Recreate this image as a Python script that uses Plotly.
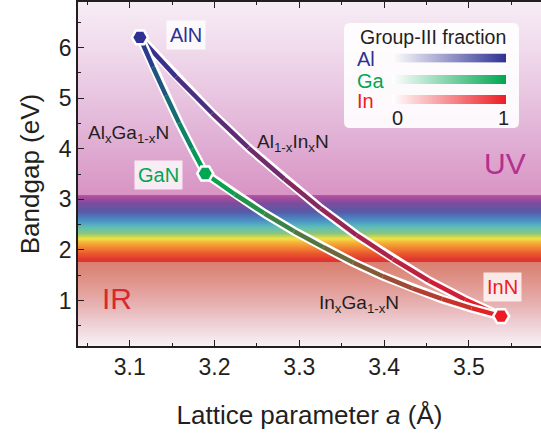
import numpy as np
import plotly.graph_objects as go

# ---------------- data ----------------
compounds = ["AlN", "GaN", "InN"]
lattice_a = [3.112, 3.189, 3.538]          # Å
bandgap = [6.20, 3.51, 0.69]               # eV
compound_colors = ["#2e3192", "#00a651", "#ed1c24"]

# Al_xGa_(1-x)N  (AlN -> GaN)
algan_a = [3.112, 3.1274, 3.1428, 3.1582, 3.1736, 3.189]
algan_E = [6.20, 5.61, 5.05, 4.51, 4.00, 3.51]

# Al_(1-x)In_xN  (AlN -> InN)
alinn_a = [3.112, 3.1546, 3.1972, 3.2398, 3.2824, 3.325, 3.3676, 3.4102, 3.4528, 3.4954, 3.538]
alinn_E = [6.20, 5.42, 4.70, 4.02, 3.40, 2.82, 2.29, 1.82, 1.39, 1.02, 0.69]

# In_xGa_(1-x)N  (GaN -> InN)
ingan_a = [3.189, 3.2239, 3.2588, 3.2937, 3.3286, 3.3635, 3.3984, 3.4333, 3.4682, 3.5031, 3.538]
ingan_E = [3.51, 3.10, 2.72, 2.37, 2.05, 1.75, 1.48, 1.24, 1.03, 0.85, 0.69]

x_tick_vals = [3.1, 3.2, 3.3, 3.4, 3.5]
y_tick_vals = [1, 2, 3, 4, 5, 6]

# background colour stops (photon energy in eV -> colour)
bg_E = [0.0, 0.1, 0.5, 1.0, 1.5, 1.755, 1.765, 1.82, 1.93, 2.05, 2.15, 2.22, 2.32, 2.45, 2.58,
        2.75, 2.92, 3.04, 3.075, 3.085, 4.0, 5.0, 6.0, 6.9, 7.0]
bg_col = ["#f9f2f6", "#f9f2f6", "#efd2d8", "#e6abab", "#dd8d81", "#d97e70", "#dd3430", "#e2382f",
          "#ea5a2e", "#f28a32", "#f5b73a", "#efe243", "#8dc57a", "#5dbfb8", "#4a8fc6",
          "#565aa8", "#7c4c9d", "#aa4c9e", "#b4569f", "#d894c4", "#dfabd2", "#e8c4e0",
          "#f0dbec", "#f7edf5", "#f7edf5"]

FONT = "Liberation Sans, Arial, sans-serif"
INK = "#231f20"

# plot-area geometry (pixels) for paper-coordinate helpers
L, R, T, B = 78, 0, 2, 87
W, H = 541, 433
PW, PH = W - L - R, H - T - B


def px_x(px):
    return (px - L) / PW


def px_y(py):
    return (H - B - py) / PH


def hex2rgb(h):
    h = h.lstrip("#")
    return tuple(int(h[i:i + 2], 16) for i in (0, 2, 4))


def mix(c0, c1, t):
    a, b = hex2rgb(c0), hex2rgb(c1)
    return "rgb(%d,%d,%d)" % tuple(round(a[i] + (b[i] - a[i]) * t) for i in range(3))


fig = go.Figure()

# ---- spectral background ----
edges = np.linspace(0.0, 7.0, 1401)
centers = (edges[:-1] + edges[1:]) / 2
cscale = [[e / 7.0, c] for e, c in zip(bg_E, bg_col)]
fig.add_trace(go.Heatmap(x=[2.9, 3.8], y=edges, z=centers.reshape(-1, 1),
                         colorscale=cscale, zmin=0, zmax=7, showscale=False,
                         hoverinfo="skip"))

# ---- alloy curves: white casing + colour-graded line ----
curves = [
    (alinn_a, alinn_E, compound_colors[0], compound_colors[2]),
    (algan_a, algan_E, compound_colors[0], compound_colors[1]),
    (ingan_a, ingan_E, compound_colors[1], compound_colors[2]),
]
for xs, ys, c0, c1 in curves:
    fig.add_trace(go.Scatter(x=xs, y=ys, mode="lines",
                             line=dict(color="white", width=9),
                             hoverinfo="skip", showlegend=False))
    for i in range(len(xs) - 1):
        t = ((xs[i] + xs[i + 1]) / 2 - xs[0]) / (xs[-1] - xs[0])
        fig.add_trace(go.Scatter(x=xs[i:i + 2], y=ys[i:i + 2], mode="lines",
                                 line=dict(color=mix(c0, c1, t), width=4.5),
                                 hoverinfo="skip", showlegend=False))

# ---- binary compounds ----
fig.add_trace(go.Scatter(x=lattice_a, y=bandgap, mode="markers",
                         marker=dict(symbol="hexagon2", size=16, color=compound_colors,
                                     line=dict(color="white", width=2.5)),
                         showlegend=False, hoverinfo="skip"))

# ---- legend box (own subplot so it sits above the background) ----
box_px = (344, 519, 23, 128)  # x0, x1, y0(top), y1(bottom)
fig.add_trace(go.Scatter(x=[], y=[], xaxis="x2", yaxis="y2", showlegend=False))
bw, bh = box_px[1] - box_px[0], box_px[3] - box_px[2]
r = 6
path = (f"M {r},0 L {bw-r},0 Q {bw},0 {bw},{r} L {bw},{bh-r} Q {bw},{bh} {bw-r},{bh} "
        f"L {r},{bh} Q 0,{bh} 0,{bh-r} L 0,{r} Q 0,0 {r},0 Z")
fig.add_shape(type="path", path=path, xref="x2", yref="y2", layer="below",
              fillcolor="rgba(255,255,255,0.9)", line=dict(width=0))

legend_names = ["Al", "Ga", "In"]
bar_top_px = [53.5, 75, 95]
bar_h = 9.3
bar_x_px = (392, 506)
frac = np.linspace(0, 1, 201)
for k, (name, col, ytop) in enumerate(zip(legend_names, compound_colors, bar_top_px)):
    ax = k + 3
    fig.add_trace(go.Heatmap(x=frac, y=[0], z=[frac], xaxis=f"x{ax}", yaxis=f"y{ax}",
                             colorscale=[[0, "#ffffff"], [1, col]], zmin=0, zmax=1,
                             showscale=False, hoverinfo="skip"))
    fig.update_layout(**{
        f"xaxis{ax}": dict(domain=[px_x(bar_x_px[0]), px_x(bar_x_px[1])], range=[0, 1],
                           anchor=f"y{ax}", visible=False, fixedrange=True, automargin=False),
        f"yaxis{ax}": dict(domain=[px_y(ytop + bar_h), px_y(ytop)], range=[-0.5, 0.5],
                           anchor=f"x{ax}", visible=False, fixedrange=True, automargin=False),
    })
    fig.add_annotation(x=px_x(355), y=px_y(ytop + bar_h / 2 + 1), xref="paper", yref="paper",
                       text=name, showarrow=False, xanchor="left", yanchor="middle",
                       font=dict(family=FONT, size=20, color=col))

fig.add_annotation(x=px_x(432.5), y=px_y(37), xref="paper", yref="paper",
                   text="Group-III fraction", showarrow=False, xanchor="center", yanchor="middle",
                   font=dict(family=FONT, size=19.5, color=INK))
for val, pxx in (("0", 397), ("1", 503.5)):
    fig.add_annotation(x=px_x(pxx), y=px_y(117.5), xref="paper", yref="paper",
                       text=val, showarrow=False, xanchor="center", yanchor="middle",
                       font=dict(family=FONT, size=20, color=INK))

# ---- labels ----
box_bg = "rgba(255,255,255,0.8)"
fig.add_annotation(x=3.1668, y=6.24, text="AlN", showarrow=False, bgcolor=box_bg, borderpad=3,
                   font=dict(family=FONT, size=20, color=compound_colors[0]))
fig.add_annotation(x=3.1334, y=3.49, text="GaN", showarrow=False, bgcolor=box_bg, borderpad=3,
                   font=dict(family=FONT, size=20, color=compound_colors[1]))
fig.add_annotation(x=3.540, y=1.27, text="InN", showarrow=False, bgcolor=box_bg, borderpad=3,
                   font=dict(family=FONT, size=20, color=compound_colors[2]))
fig.add_annotation(x=3.098, y=4.30, text="Al<sub>x</sub>Ga<sub>1-x</sub>N", showarrow=False,
                   font=dict(family=FONT, size=19, color=INK))
fig.add_annotation(x=3.292, y=4.11, text="Al<sub>1-x</sub>In<sub>x</sub>N", showarrow=False,
                   font=dict(family=FONT, size=19, color=INK))
fig.add_annotation(x=3.370, y=0.94, text="In<sub>x</sub>Ga<sub>1-x</sub>N", showarrow=False,
                   font=dict(family=FONT, size=19, color=INK))
fig.add_annotation(x=3.543, y=3.71, text="UV", showarrow=False,
                   font=dict(family=FONT, size=30, color="#b3308f"))
fig.add_annotation(x=3.085, y=1.04, text="IR", showarrow=False,
                   font=dict(family=FONT, size=30, color="#d7282f"))

axis_common = dict(showgrid=False, zeroline=False, showline=True, linecolor=INK, linewidth=1.5,
                   ticks="inside", tickcolor=INK, tickwidth=1.3, ticklen=6, automargin=False,
                   tickfont=dict(family=FONT, size=23, color=INK))

fig.update_layout(
    width=W, height=H,
    margin=dict(l=L, r=R, t=T, b=B, pad=0, autoexpand=False),
    paper_bgcolor="white", plot_bgcolor="rgba(0,0,0,0)",
    showlegend=False,
    font=dict(family=FONT, color=INK),
    xaxis=dict(range=[3.039, 3.585], tickvals=x_tick_vals, ticktext=[f"{v:.1f}" for v in x_tick_vals],
               mirror="ticks",
               minor=dict(ticks="inside", dtick=0.05, ticklen=3.5, tickcolor=INK, tickwidth=1.2),
               title=dict(text="Lattice parameter <i>a</i> (Å)", standoff=26,
                          font=dict(family=FONT, size=26, color=INK)),
               **axis_common),
    yaxis=dict(range=[0.1, 6.9], tickvals=y_tick_vals, mirror=False,
               minor=dict(ticks="inside", dtick=0.5, ticklen=3.5, tickcolor=INK, tickwidth=1.2),
               title=dict(text="Bandgap (eV)", standoff=12,
                          font=dict(family=FONT, size=26, color=INK)),
               **axis_common),
    xaxis2=dict(domain=[px_x(box_px[0]), px_x(box_px[1])], range=[0, bw], anchor="y2",
                visible=False, fixedrange=True, automargin=False),
    yaxis2=dict(domain=[px_y(box_px[3]), px_y(box_px[2])], range=[bh, 0], anchor="x2",
                visible=False, fixedrange=True, automargin=False),
)

fig.write_html("out.html", config={"displayModeBar": False},
               post_script="document.body.style.margin='0';document.body.style.overflow='hidden';")
